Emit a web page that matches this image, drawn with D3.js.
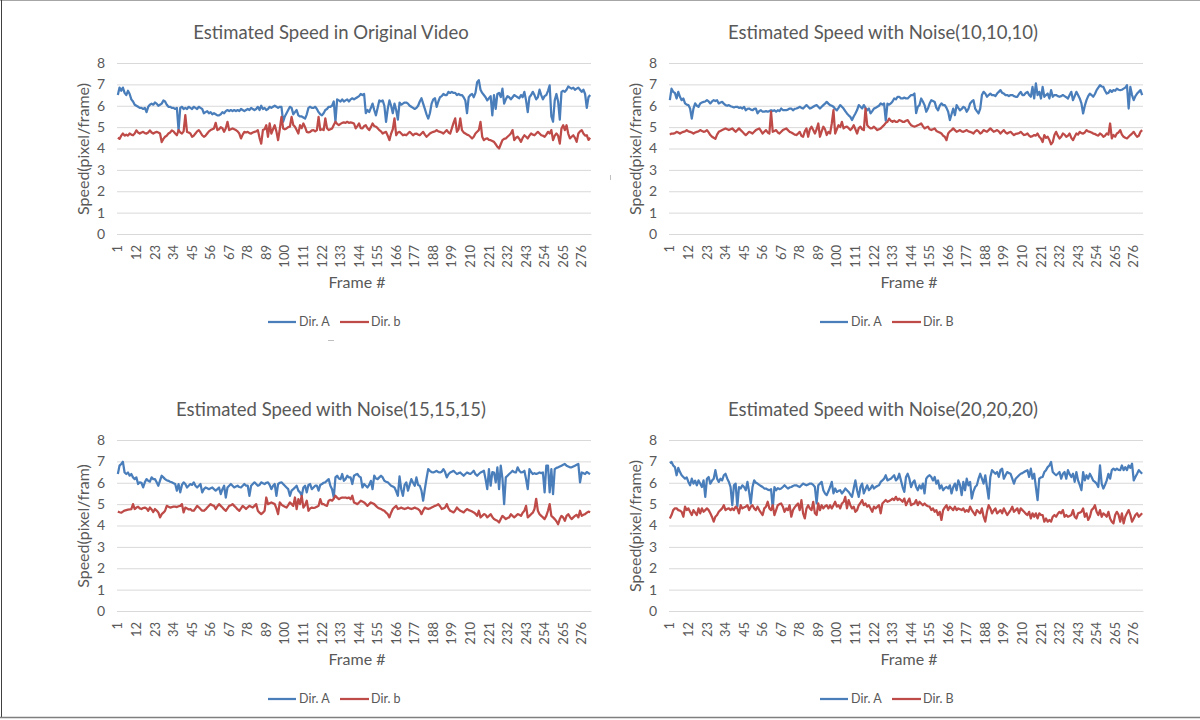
<!DOCTYPE html>
<html>
<head>
<meta charset="utf-8">
<script src="https://cdn.jsdelivr.net/npm/d3@7"></script>
<style>
  body { margin: 0; background: #fff; }
  text { font-family: Lato, "Open Sans", sans-serif; fill: #595959; }
</style>
</head>
<body>
<svg id="chart" width="1200" height="720"></svg>
<script>
// frames on the category axis and the labelled ones
const frames = d3.range(1, 282);
const tickFrames = d3.range(1, 277, 11);
const yTicks = [0, 1, 2, 3, 4, 5, 6, 7, 8];

const titles = [
  "Estimated Speed in Original Video",
  "Estimated Speed with Noise(10,10,10)",
  "Estimated Speed with Noise(15,15,15)",
  "Estimated Speed with Noise(20,20,20)"
];
const yTitles = ["Speed(pixel/frame)", "Speed(pixel/frame)", "Speed(pixel/fram)", "Speed(pixel/frame)"];
const xTitle = "Frame #";
const nameA = ["Dir. A", "Dir. A", "Dir. A", "Dir. A"];
const nameB = ["Dir. b", "Dir. B", "Dir. b", "Dir. B"];

// original video
const origA = [
  6.5, 6.85, 6.7, 6.85, 6.6, 6.5, 6.7, 6.55, 6.3, 6.2,
  6.05, 6.0, 5.95, 5.9, 5.9, 5.85, 5.9, 5.7, 5.95, 6.05,
  6.1, 6.05, 6.15, 6.1, 6.0, 6.05, 6.1, 6.25, 6.2, 6.05,
  5.95, 5.95, 5.9, 5.9, 5.85, 5.9, 4.85, 5.9, 5.95, 5.85,
  5.9, 5.85, 5.95, 5.9, 5.85, 5.95, 5.9, 5.85, 5.95, 5.9,
  5.85, 5.65, 5.7, 5.75, 5.65, 5.7, 5.6, 5.65, 5.6, 5.55,
  5.55, 5.6, 5.7, 5.65, 5.75, 5.8, 5.75, 5.8, 5.75, 5.8,
  5.75, 5.8, 5.75, 5.85, 5.8, 5.75, 5.8, 5.85, 5.8, 5.9,
  5.85, 5.8, 5.85, 5.95, 5.8, 6.0, 5.85, 5.9, 5.8, 5.85,
  5.95, 5.9, 5.95, 6.0, 5.95, 5.9, 5.95, 5.95, 5.25, 5.5,
  5.65, 5.8, 5.95, 5.9, 5.6, 5.7, 5.8, 5.55, 5.5, 5.5,
  5.45, 5.4, 5.6, 5.9, 5.95, 5.9, 5.9, 5.95, 5.85, 5.7,
  5.6, 5.55, 5.65, 5.8, 5.85, 5.95, 5.95, 6.0, 6.2, 5.25,
  6.3, 6.25, 6.2, 6.3, 6.2, 6.25, 6.3, 6.2, 6.3, 6.35,
  6.3, 6.35, 6.4, 6.45, 6.55, 6.5, 6.55, 5.65, 5.8, 5.7,
  5.9, 6.1, 5.8, 5.55, 5.9, 6.25, 6.2, 6.25, 6.0, 5.25,
  5.85, 6.25, 6.0, 5.65, 6.1, 5.8, 5.35, 6.15, 6.05, 6.1,
  6.15, 6.15, 6.1, 6.0, 5.95, 5.9, 5.85, 5.9, 6.0, 6.2,
  6.35, 6.1, 5.85, 5.6, 5.4, 5.65, 6.1, 6.3, 6.35, 5.95,
  6.2, 6.4, 6.45, 6.55, 6.5, 6.5, 6.65, 6.6, 6.65, 6.6,
  6.6, 6.5, 6.55, 6.5, 6.5, 6.4, 6.25, 5.65, 6.4, 6.5,
  6.55, 6.4, 6.6, 7.1, 7.2, 6.75, 6.6, 6.5, 6.4, 6.25,
  6.35, 6.45, 5.55, 6.5, 5.85, 6.55, 6.6, 6.4, 6.8, 6.1,
  6.3, 6.45, 6.4, 6.3, 6.4, 6.5, 6.45, 6.4, 6.35, 6.5,
  6.4, 6.65, 6.25, 5.7, 6.4, 6.5, 6.65, 6.5, 6.3, 6.4,
  6.75, 6.5, 6.3, 6.45, 6.5, 6.7, 6.95, 5.5, 5.25, 6.25,
  6.55, 6.2, 5.35, 6.65, 6.7, 6.65, 6.75, 6.9, 6.85, 6.8,
  6.85, 6.75, 6.8, 6.85, 6.75, 6.65, 6.75, 6.55, 5.9, 6.4, 6.5
];
const origB = [
  4.5, 4.45, 4.6, 4.7, 4.6, 4.65, 4.6, 4.7, 4.65, 4.62,
  4.7, 4.85, 4.75, 4.7, 4.75, 4.78, 4.72, 4.7, 4.75, 4.85,
  4.75, 4.7, 4.75, 4.78, 4.75, 4.7, 4.3, 4.45, 4.55, 4.6,
  4.7, 4.75, 4.85, 4.8, 4.7, 4.62, 4.86, 4.75, 4.7, 4.8,
  5.56, 4.78, 4.75, 4.7, 4.55, 4.6, 4.7, 4.8, 4.86, 4.75,
  4.62, 4.55, 4.6, 4.7, 4.8, 4.86, 4.9, 4.94, 5.2, 4.86,
  4.9, 5.0, 4.95, 4.78, 4.95, 5.25, 4.86, 4.9, 4.94, 4.9,
  4.86, 4.8, 4.7, 4.47, 4.65, 4.78, 4.75, 4.78, 4.72, 4.7,
  4.75, 4.78, 4.8, 4.86, 4.5, 4.23, 4.86, 4.9, 5.09, 4.55,
  5.17, 4.7, 4.9, 5.09, 4.8, 4.39, 4.9, 5.48, 4.94, 4.9,
  4.94, 5.0, 5.02, 5.48, 5.1, 5.02, 4.86, 4.7, 5.09, 4.95,
  5.17, 5.0, 4.78, 4.75, 4.78, 4.85, 4.86, 4.8, 4.86, 5.48,
  4.86, 4.9, 4.86, 5.41, 4.95, 4.86, 4.9, 4.94, 5.1, 5.25,
  5.15, 5.09, 5.15, 5.2, 5.22, 5.2, 5.25, 5.2, 5.22, 5.2,
  5.17, 4.94, 5.05, 5.17, 4.95, 4.94, 5.05, 5.09, 4.95, 4.86,
  5.0, 5.17, 5.05, 5.02, 4.95, 4.86, 4.8, 4.7, 4.75, 4.78,
  4.6, 4.39, 4.7, 4.9, 5.41, 4.62, 4.75, 4.78, 4.7, 4.62,
  4.65, 4.62, 4.7, 4.78, 4.7, 4.62, 4.68, 4.7, 4.65, 4.62,
  4.7, 4.78, 4.65, 4.55, 4.62, 4.7, 4.75, 4.78, 4.8, 4.86,
  4.8, 4.78, 4.75, 4.7, 4.78, 4.86, 4.75, 4.7, 4.94, 5.2,
  5.41, 4.78, 4.9, 5.41, 4.86, 4.75, 4.7, 4.65, 4.62, 4.55,
  4.47, 4.55, 4.7, 4.78, 4.86, 5.25, 4.55, 4.39, 4.45, 4.47,
  4.4, 4.39, 4.35, 4.31, 4.2, 4.08, 4.0, 4.2, 4.39, 4.45,
  4.47, 4.55, 4.62, 4.7, 4.86, 4.39, 4.5, 4.55, 4.45, 4.31,
  4.5, 4.62, 4.55, 4.47, 4.6, 4.7, 4.65, 4.62, 4.7, 4.78,
  4.7, 4.62, 4.6, 4.55, 4.65, 4.78, 4.7, 4.86, 4.39, 4.6,
  4.7, 4.6, 4.23, 4.94, 5.09, 4.86, 5.09, 4.7, 4.47, 4.55,
  4.62, 4.5, 4.31, 4.7, 4.8, 4.86, 4.7, 4.6, 4.62, 4.4, 4.5
];

// noise (10,10,10)
const noise10A = [
  6.26, 6.8, 6.65, 6.6, 6.34, 6.65, 6.42, 6.26, 6.34, 6.11,
  6.05, 6.03, 5.87, 5.4, 5.87, 6.11, 6.0, 5.95, 6.11, 6.15,
  6.18, 6.2, 6.26, 6.2, 6.11, 6.2, 6.26, 6.22, 6.26, 6.11,
  6.15, 6.18, 6.1, 6.03, 6.0, 6.03, 5.98, 5.95, 5.92, 5.95,
  5.95, 5.9, 5.92, 5.87, 5.95, 5.79, 5.85, 5.87, 5.82, 5.79,
  5.85, 5.87, 5.64, 5.75, 5.79, 5.72, 5.72, 5.75, 5.72, 5.75,
  5.79, 5.75, 5.79, 5.72, 5.79, 5.75, 5.87, 5.8, 5.79, 5.79,
  5.82, 5.87, 5.87, 5.79, 5.85, 5.87, 5.9, 5.95, 5.9, 5.87,
  5.95, 6.03, 5.95, 5.87, 5.9, 5.95, 6.0, 6.03, 5.95, 5.87,
  5.95, 6.03, 6.1, 6.18, 6.1, 6.03, 6.0, 5.95, 5.85, 5.79,
  5.9, 6.03, 5.95, 5.87, 5.75, 5.64, 5.55, 5.48, 5.33, 5.5,
  5.64, 5.8, 6.03, 5.95, 5.87, 6.03, 5.9, 5.79, 5.87, 5.64,
  5.75, 5.87, 5.9, 5.95, 6.0, 6.11, 6.05, 6.11, 5.3, 6.1,
  6.05, 6.11, 6.2, 6.34, 6.3, 6.42, 6.42, 6.34, 6.34, 6.38,
  6.34, 6.34, 6.42, 6.5, 6.5, 6.57, 5.65, 5.95, 6.03, 6.34,
  6.2, 6.03, 5.72, 5.87, 6.1, 6.26, 6.22, 6.18, 5.9, 5.79,
  6.0, 6.11, 6.03, 6.03, 5.9, 5.72, 5.33, 5.6, 5.87, 5.56,
  6.03, 5.9, 5.79, 5.85, 5.95, 5.9, 5.72, 5.85, 6.11, 6.2,
  6.26, 5.87, 5.75, 5.64, 5.87, 6.5, 6.65, 6.57, 6.42, 6.5,
  6.57, 6.5, 6.5, 6.45, 6.57, 6.65, 6.73, 6.6, 6.57, 6.5,
  6.5, 6.45, 6.5, 6.5, 6.45, 6.42, 6.42, 6.55, 6.65, 6.5,
  6.5, 6.6, 6.65, 6.5, 6.42, 6.88, 6.34, 7.05, 6.5, 6.65,
  6.34, 6.88, 6.42, 6.5, 6.57, 6.34, 6.73, 6.42, 6.5, 6.5,
  6.45, 6.42, 6.45, 6.5, 6.45, 6.4, 6.34, 6.5, 6.65, 6.26,
  6.45, 6.65, 6.5, 6.34, 6.11, 5.64, 6.0, 6.26, 6.45, 6.57,
  6.5, 6.42, 6.55, 6.73, 6.85, 6.96, 6.9, 6.88, 6.7, 6.57,
  6.6, 6.73, 6.65, 6.73, 6.7, 6.8, 6.75, 6.73, 6.75, 6.8,
  6.85, 6.96, 5.87, 6.88, 6.5, 6.26, 6.45, 6.57, 6.65, 6.73, 6.5
];
const noise10B = [
  4.65, 4.7, 4.7, 4.72, 4.78, 4.75, 4.7, 4.75, 4.78, 4.8,
  4.86, 4.8, 4.78, 4.75, 4.7, 4.75, 4.78, 4.8, 4.86, 4.82,
  4.78, 4.8, 4.86, 4.75, 4.63, 4.55, 4.5, 4.45, 4.65, 4.78,
  4.82, 4.86, 4.9, 4.94, 4.9, 4.86, 4.9, 4.94, 4.86, 4.78,
  4.86, 4.94, 4.86, 4.78, 4.7, 4.63, 4.7, 4.78, 4.75, 4.7,
  4.78, 4.86, 4.9, 4.94, 4.82, 4.7, 4.78, 4.86, 4.75, 4.7,
  5.72, 4.78, 4.82, 4.86, 4.75, 4.7, 4.78, 4.86, 4.9, 4.94,
  4.86, 4.78, 4.75, 4.7, 4.65, 4.63, 4.7, 4.78, 4.6, 4.55,
  4.8, 4.94, 4.55, 4.9, 5.02, 4.86, 4.7, 4.9, 5.17, 4.55,
  4.8, 5.02, 4.9, 4.63, 4.78, 4.7, 5.17, 5.79, 4.7, 4.9,
  5.09, 5.0, 5.25, 4.94, 5.0, 5.02, 4.95, 4.86, 4.95, 5.09,
  4.9, 4.7, 4.95, 5.02, 4.9, 4.86, 5.87, 5.09, 5.0, 4.94,
  4.95, 5.02, 4.94, 4.86, 4.9, 4.94, 5.02, 5.09, 5.2, 5.25,
  5.4, 5.3, 5.25, 5.3, 5.25, 5.25, 5.33, 5.3, 5.25, 5.25,
  5.3, 5.33, 5.2, 5.09, 5.05, 5.02, 5.05, 5.09, 5.12, 5.17,
  5.05, 4.94, 4.98, 5.02, 4.9, 4.86, 4.9, 4.94, 4.82, 4.78,
  4.75, 4.7, 4.6, 4.55, 4.39, 4.7, 4.8, 4.86, 4.94, 4.86,
  4.78, 4.82, 4.86, 4.8, 4.78, 4.82, 4.86, 4.8, 4.78, 4.75,
  4.7, 4.8, 4.86, 4.8, 4.7, 4.75, 4.86, 4.82, 4.78, 4.86,
  4.94, 4.86, 4.78, 4.82, 4.86, 4.8, 4.7, 4.78, 4.86, 4.75,
  4.7, 4.75, 4.78, 4.7, 4.63, 4.68, 4.7, 4.72, 4.78, 4.7,
  4.63, 4.65, 4.7, 4.6, 4.55, 4.58, 4.63, 4.6, 4.7, 4.55,
  4.47, 4.3, 4.63, 4.5, 4.55, 4.4, 4.2, 4.3, 4.63, 4.78,
  4.6, 4.47, 4.55, 4.7, 4.65, 4.55, 4.6, 4.7, 4.5, 4.39,
  4.55, 4.7, 4.65, 4.78, 4.72, 4.7, 4.75, 4.86, 4.8, 4.78,
  4.75, 4.7, 4.68, 4.63, 4.6, 4.7, 4.65, 4.55, 4.6, 4.7,
  4.65, 5.17, 4.47, 4.63, 4.55, 4.7, 4.75, 4.86, 4.65, 4.55,
  4.5, 4.47, 4.55, 4.63, 4.7, 4.78, 4.65, 4.55, 4.6, 4.78, 4.86
];

// noise (15,15,15)
const noise15A = [
  6.41, 6.8, 6.88, 6.98, 6.48, 6.41, 6.48, 6.33, 6.41, 6.25,
  6.17, 6.25, 5.94, 6.02, 6.0, 5.78, 6.02, 6.17, 6.09, 6.05,
  6.25, 6.17, 6.17, 6.02, 5.86, 6.1, 6.33, 6.25, 6.17, 6.12,
  6.09, 6.05, 6.02, 5.98, 5.94, 5.63, 5.94, 5.55, 5.9, 6.02,
  5.94, 5.78, 5.86, 5.94, 5.9, 6.02, 5.86, 5.78, 5.86, 5.94,
  5.55, 5.7, 5.78, 5.74, 5.7, 5.74, 5.78, 5.7, 5.63, 5.7,
  5.78, 5.47, 5.7, 5.86, 5.31, 5.78, 5.86, 5.94, 5.86, 5.78,
  5.82, 5.86, 5.8, 5.78, 5.86, 5.94, 5.86, 5.86, 5.39, 5.86,
  5.94, 6.02, 5.94, 5.86, 5.9, 6.02, 5.98, 5.94, 6.0, 6.02,
  5.9, 5.7, 5.86, 5.94, 5.39, 5.94, 6.0, 6.02, 5.94, 5.86,
  5.78, 5.7, 5.39, 5.63, 5.7, 5.78, 5.86, 5.63, 5.55, 5.39,
  5.78, 5.86, 5.55, 5.9, 5.94, 5.7, 5.78, 5.86, 5.86, 5.63,
  5.9, 5.94, 6.0, 6.02, 6.1, 6.17, 5.86, 5.7, 5.31, 6.25,
  6.33, 6.2, 6.17, 6.41, 6.09, 6.17, 6.33, 6.25, 6.25, 5.94,
  6.33, 6.38, 6.41, 6.3, 6.25, 5.78, 5.94, 5.86, 5.78, 5.9,
  6.09, 5.7, 6.33, 6.2, 6.17, 6.25, 6.33, 6.25, 6.09, 6.05,
  6.02, 5.94, 5.86, 5.82, 5.78, 5.6, 5.39, 6.3, 5.7, 5.39,
  5.9, 6.02, 5.63, 5.9, 6.17, 6.0, 5.86, 6.25, 5.9, 5.86,
  5.63, 5.16, 5.7, 6.2, 6.64, 6.56, 6.5, 6.48, 6.52, 6.56,
  6.5, 6.48, 6.52, 6.64, 6.5, 6.25, 6.4, 6.48, 6.52, 6.56,
  6.48, 6.41, 6.45, 6.48, 6.4, 6.33, 6.41, 6.48, 6.44, 6.41,
  6.48, 6.56, 6.4, 6.33, 6.41, 6.48, 6.52, 6.56, 6.17, 5.7,
  6.64, 5.86, 6.5, 6.48, 6.02, 6.72, 5.7, 6.8, 6.2, 5.0,
  6.25, 6.33, 6.41, 6.48, 6.56, 6.5, 6.48, 6.72, 6.56, 6.48,
  6.5, 6.56, 6.17, 5.7, 6.64, 6.5, 6.41, 6.45, 6.41, 6.44,
  6.48, 6.45, 6.48, 5.55, 6.8, 6.8, 5.55, 6.64, 5.47, 6.64,
  6.7, 6.72, 6.76, 6.8, 6.84, 6.88, 6.8, 6.76, 6.72, 6.72,
  6.76, 6.8, 6.84, 6.88, 6.02, 6.48, 6.45, 6.41, 6.5, 6.45, 6.41
];
const noise15B = [
  4.65, 4.62, 4.6, 4.65, 4.7, 4.72, 4.74, 4.75, 4.77, 5.0,
  4.77, 4.84, 4.88, 4.8, 4.77, 4.82, 4.84, 4.8, 4.69, 4.84,
  4.75, 4.63, 4.77, 4.7, 4.61, 4.38, 4.53, 4.6, 4.69, 4.92,
  4.88, 4.84, 4.86, 4.88, 4.88, 4.86, 4.9, 4.92, 5.0, 4.61,
  4.84, 4.8, 4.75, 4.77, 4.7, 4.69, 4.8, 4.92, 4.85, 4.77,
  4.7, 4.69, 4.75, 4.84, 4.92, 5.0, 4.95, 4.92, 4.77, 4.9,
  5.0, 4.92, 4.84, 4.75, 4.69, 4.8, 4.92, 4.95, 5.0, 4.92,
  4.84, 4.75, 4.69, 4.8, 4.92, 4.85, 4.77, 4.85, 4.92, 4.88,
  4.84, 4.92, 5.0, 4.69, 4.6, 4.53, 4.6, 4.69, 5.31, 5.0,
  5.04, 5.08, 5.04, 5.0, 4.8, 4.53, 5.08, 4.98, 4.92, 4.88,
  4.84, 4.95, 5.08, 5.0, 4.92, 5.31, 4.77, 5.23, 5.0, 5.39,
  4.84, 4.95, 5.16, 4.69, 4.8, 4.84, 4.82, 4.84, 4.88, 4.92,
  5.23, 5.0, 5.0, 4.95, 4.92, 5.16, 5.2, 5.16, 5.25, 5.39,
  5.3, 5.23, 5.28, 5.31, 5.3, 5.31, 5.28, 5.31, 5.23, 5.39,
  5.08, 5.04, 5.0, 5.08, 5.16, 5.12, 5.08, 5.0, 4.92, 5.0,
  5.08, 5.04, 5.0, 4.92, 4.84, 4.8, 4.77, 4.72, 4.69, 4.6,
  4.53, 4.38, 4.6, 4.77, 4.85, 4.92, 4.77, 4.8, 4.84, 4.8,
  4.77, 4.8, 4.84, 4.8, 4.77, 4.8, 4.84, 4.8, 4.77, 4.7,
  4.53, 4.7, 4.84, 4.8, 4.77, 4.8, 4.84, 4.88, 4.92, 4.95,
  5.0, 4.9, 4.77, 4.8, 4.84, 5.0, 4.8, 4.69, 4.65, 4.61,
  4.7, 4.84, 4.75, 4.69, 4.65, 4.61, 4.7, 4.77, 4.72, 4.69,
  4.65, 4.61, 4.55, 4.45, 4.69, 4.38, 4.45, 4.53, 4.5, 4.38,
  4.45, 4.53, 4.4, 4.3, 4.26, 4.22, 4.14, 4.3, 4.45, 4.38,
  4.3, 4.35, 4.38, 4.53, 4.45, 4.38, 4.45, 4.53, 4.5, 4.45,
  4.6, 4.69, 4.92, 4.38, 4.45, 4.53, 4.6, 4.77, 5.25, 4.69,
  4.53, 4.45, 4.38, 4.3, 4.45, 4.69, 5.0, 4.45, 4.38, 4.3,
  4.2, 4.06, 4.3, 4.45, 4.38, 4.22, 4.45, 4.53, 4.4, 4.3,
  4.38, 4.45, 4.5, 4.38, 4.69, 4.45, 4.5, 4.53, 4.6, 4.65, 4.62
];

// noise (20,20,20)
const noise20A = [
  6.92, 6.97, 6.81, 6.73, 6.35, 6.7, 6.5, 6.35, 6.27, 6.19,
  6.25, 6.04, 5.88, 6.19, 5.96, 6.1, 5.88, 6.11, 5.96, 5.8,
  6.11, 5.34, 6.19, 6.27, 5.96, 6.1, 6.19, 6.59, 6.19, 6.04,
  6.19, 6.11, 6.35, 6.42, 6.2, 6.04, 5.8, 4.95, 5.88, 5.96,
  4.88, 5.8, 5.73, 5.88, 5.8, 5.65, 6.04, 5.57, 5.03, 5.8,
  6.11, 6.0, 5.96, 5.9, 5.85, 5.8, 5.73, 5.73, 5.68, 5.65,
  5.7, 4.8, 5.8, 5.65, 5.75, 5.7, 5.73, 5.8, 5.88, 5.8,
  5.73, 5.78, 5.8, 5.85, 5.88, 5.88, 5.84, 5.8, 5.88, 5.96,
  5.92, 5.88, 5.92, 5.96, 5.96, 5.9, 5.8, 5.03, 5.88, 5.96,
  6.04, 5.65, 5.5, 5.42, 5.6, 5.8, 6.04, 5.5, 5.73, 5.57,
  5.62, 5.65, 5.5, 5.6, 5.73, 5.65, 5.57, 5.45, 5.34, 5.73,
  6.11, 5.65, 5.34, 5.8, 5.96, 5.5, 5.7, 5.88, 5.65, 5.73,
  5.88, 5.73, 5.8, 5.85, 5.88, 6.04, 6.11, 6.19, 6.35, 6.11,
  6.15, 6.19, 6.27, 6.35, 6.11, 6.19, 6.42, 6.11, 5.8, 5.57,
  6.27, 6.42, 6.19, 5.8, 6.0, 6.11, 5.8, 5.65, 5.88, 5.73,
  5.96, 5.5, 6.19, 6.3, 6.35, 6.27, 6.11, 6.27, 5.96, 6.11,
  5.73, 5.88, 5.65, 5.75, 5.8, 5.73, 5.88, 5.5, 5.8, 5.96,
  5.65, 6.11, 5.9, 5.42, 6.04, 5.65, 6.19, 5.88, 6.04, 5.26,
  5.6, 5.8, 5.88, 6.19, 6.42, 6.19, 5.96, 6.35, 5.8, 5.26,
  6.27, 6.59, 6.5, 6.42, 6.5, 6.27, 6.59, 6.66, 6.19, 6.35,
  6.5, 6.45, 6.42, 6.19, 5.96, 6.19, 6.27, 6.35, 6.42, 6.45,
  6.5, 6.55, 6.59, 6.27, 6.66, 6.19, 6.42, 5.8, 5.19, 6.19,
  6.25, 6.27, 6.5, 6.59, 6.73, 6.81, 6.97, 6.5, 6.42, 6.35,
  6.42, 6.5, 6.19, 6.42, 6.5, 6.19, 6.59, 6.4, 6.27, 6.42,
  6.04, 6.5, 6.11, 5.9, 5.65, 6.5, 6.11, 6.35, 6.19, 6.42,
  6.27, 6.1, 6.04, 5.96, 5.8, 6.81, 5.96, 5.73, 5.9, 6.11,
  6.42, 6.19, 6.59, 6.66, 6.59, 6.66, 6.6, 6.59, 6.81, 6.59,
  6.73, 6.59, 6.81, 6.7, 6.89, 6.11, 6.27, 6.42, 6.59, 6.5, 6.42
];
const noise20B = [
  4.33, 4.49, 4.72, 4.8, 4.8, 4.72, 4.7, 4.64, 4.41, 4.88,
  4.72, 4.8, 4.64, 4.49, 4.72, 4.6, 4.49, 4.8, 4.57, 4.8,
  4.64, 4.72, 4.8, 4.72, 4.57, 4.4, 4.18, 4.41, 4.49, 4.64,
  4.72, 4.8, 4.95, 4.72, 4.78, 4.8, 4.72, 4.8, 4.72, 4.88,
  4.8, 4.57, 4.95, 4.8, 4.85, 4.88, 4.95, 4.72, 4.88, 4.95,
  4.8, 4.72, 4.88, 4.72, 4.6, 4.49, 4.8, 4.88, 5.11, 4.8,
  4.72, 4.95, 4.49, 4.72, 4.95, 5.0, 5.03, 4.88, 4.64, 4.8,
  4.72, 4.95, 4.41, 4.72, 4.85, 4.95, 5.03, 4.72, 5.19, 4.57,
  4.33, 4.8, 4.95, 4.8, 4.72, 5.11, 4.57, 4.49, 5.03, 4.72,
  4.95, 4.8, 4.9, 4.95, 4.8, 4.95, 4.8, 4.95, 5.11, 4.88,
  4.95, 4.8, 5.03, 5.1, 5.34, 4.8, 5.19, 4.95, 4.8, 4.88,
  4.64, 4.72, 4.95, 5.05, 5.19, 4.95, 5.03, 4.88, 4.95, 4.8,
  4.64, 4.88, 4.8, 4.88, 4.95, 4.57, 5.03, 5.11, 5.19, 5.11,
  5.15, 5.19, 5.26, 5.19, 5.34, 5.19, 5.26, 5.19, 5.11, 5.26,
  4.95, 5.11, 5.26, 4.95, 5.0, 5.03, 5.19, 4.95, 5.11, 5.03,
  4.95, 5.03, 4.95, 4.9, 4.88, 4.72, 4.8, 4.64, 4.72, 4.49,
  4.64, 4.26, 4.72, 4.85, 4.95, 4.72, 4.88, 4.8, 4.72, 4.88,
  4.72, 4.8, 4.76, 4.72, 4.8, 4.64, 4.72, 4.64, 4.88, 4.72,
  4.6, 4.49, 4.72, 4.64, 4.57, 4.8, 4.41, 4.18, 4.64, 4.95,
  4.8, 4.57, 4.7, 4.8, 4.57, 4.64, 4.72, 4.57, 4.8, 4.64,
  4.49, 4.6, 4.72, 4.88, 4.64, 4.72, 4.8, 4.57, 4.8, 4.72,
  4.64, 4.55, 4.49, 4.64, 4.33, 4.57, 4.41, 4.57, 4.33, 4.57,
  4.5, 4.49, 4.18, 4.33, 4.18, 4.26, 4.18, 4.41, 4.49, 4.41,
  4.55, 4.64, 4.57, 4.72, 4.41, 4.49, 4.41, 4.45, 4.49, 4.72,
  4.41, 4.33, 4.57, 4.6, 4.64, 4.8, 4.41, 4.57, 4.26, 4.41,
  4.72, 4.8, 4.95, 4.64, 4.49, 4.72, 4.41, 4.57, 4.5, 4.41,
  4.64, 4.33, 4.18, 4.1, 4.49, 4.64, 4.5, 4.18, 4.57, 4.1,
  4.41, 4.57, 4.72, 4.5, 4.18, 4.33, 4.49, 4.57, 4.41, 4.49, 4.57
];

const seriesA = [origA, noise10A, noise15A, noise20A];
const seriesB = [origB, noise10B, noise15B, noise20B];

const colorA = "#4a7ebb", colorB = "#be4b48";

// panel placement
const offsets = [[0, 0], [552, 0], [0, 377], [552, 377]];
const plot = {left: 117, right: 591, top: 63, bottom: 234};

const svg = d3.select("#chart");

// outer frame of the picture
svg.append("line").attr("x1", 0).attr("x2", 1200).attr("y1", 0.5).attr("y2", 0.5)
  .attr("stroke", "#a6a6a6");
svg.append("line").attr("x1", 1.5).attr("x2", 1.5).attr("y1", 0).attr("y2", 718)
  .attr("stroke", "#404040");
svg.append("line").attr("x1", 0).attr("x2", 1200).attr("y1", 717.5).attr("y2", 717.5)
  .attr("stroke", "#7f7f7f").attr("stroke-width", 1.5);
// two small stray marks between the charts
svg.append("line").attr("x1", 610.5).attr("x2", 610.5).attr("y1", 175).attr("y2", 180)
  .attr("stroke", "#bfbfbf");
svg.append("line").attr("x1", 328).attr("x2", 334).attr("y1", 340.5).attr("y2", 340.5)
  .attr("stroke", "#bfbfbf");

const x = d3.scaleBand()
  .domain(frames)
  .range([plot.left, plot.right])
  .paddingInner(0);

const y = d3.scaleLinear()
  .domain([0, 8])
  .range([plot.bottom, plot.top]);

titles.forEach(function(title, p) {
  const g = svg.append("g")
    .attr("transform", `translate(${offsets[p][0]}, ${offsets[p][1]})`);

  // gridlines + y labels
  const yAxis = g.append("g")
    .attr("transform", `translate(${plot.left}, 0)`)
    .call(d3.axisLeft(y).tickValues(yTicks).tickSize(-(plot.right - plot.left)).tickPadding(12));
  yAxis.select(".domain").remove();
  yAxis.selectAll(".tick line").attr("stroke", "#d9d9d9");
  yAxis.selectAll(".tick text")
    .style("font-size", "14px").style("font-family", "Lato, sans-serif").attr("fill", "#595959");

  // category axis, every 11th frame labelled
  const xAxis = g.append("g")
    .attr("transform", `translate(0, ${plot.bottom})`)
    .call(d3.axisBottom(x).tickValues(tickFrames).tickSize(0));
  xAxis.select(".domain").attr("stroke", "#d9d9d9");
  xAxis.selectAll(".tick text")
    .attr("transform", "rotate(-90)")
    .attr("x", -11)
    .attr("y", 0)
    .attr("dy", "0.35em")
    .style("text-anchor", "end")
    .style("font-size", "13px").style("font-family", "Lato, sans-serif").attr("fill", "#595959");

  const line = d3.line()
    .x(function(d, i) { return x(frames[i]) + x.bandwidth() / 2; })
    .y(function(d) { return y(d); });

  g.append("path").datum(seriesA[p])
    .attr("fill", "none").attr("stroke", colorA).attr("stroke-width", 2.25)
    .attr("stroke-linejoin", "round").attr("d", line);
  g.append("path").datum(seriesB[p])
    .attr("fill", "none").attr("stroke", colorB).attr("stroke-width", 2.25)
    .attr("stroke-linejoin", "round").attr("d", line);

  // titles
  g.append("text")
    .attr("x", 331).attr("y", 33).attr("dy", "0.35em")
    .attr("text-anchor", "middle").style("font-size", "18.5px")
    .text(title);
  g.append("text")
    .attr("transform", "translate(83, 149) rotate(-90)")
    .attr("dy", "0.35em").attr("text-anchor", "middle").style("font-size", "16px")
    .text(yTitles[p]);
  g.append("text")
    .attr("x", 357).attr("y", 282).attr("dy", "0.35em")
    .attr("text-anchor", "middle").style("font-size", "16px")
    .text(xTitle);

  // legend
  const legend = g.append("g").attr("transform", "translate(0, 322)");
  legend.append("line").attr("x1", 268).attr("x2", 296).attr("y1", 0).attr("y2", 0)
    .attr("stroke", colorA).attr("stroke-width", 2.25);
  legend.append("text").attr("x", 299).attr("y", 0).attr("dy", "0.35em")
    .style("font-size", "12.5px").text(nameA[p]);
  legend.append("line").attr("x1", 340).attr("x2", 369).attr("y1", 0).attr("y2", 0)
    .attr("stroke", colorB).attr("stroke-width", 2.25);
  legend.append("text").attr("x", 371).attr("y", 0).attr("dy", "0.35em")
    .style("font-size", "12.5px").text(nameB[p]);
});
</script>
</body>
</html>
